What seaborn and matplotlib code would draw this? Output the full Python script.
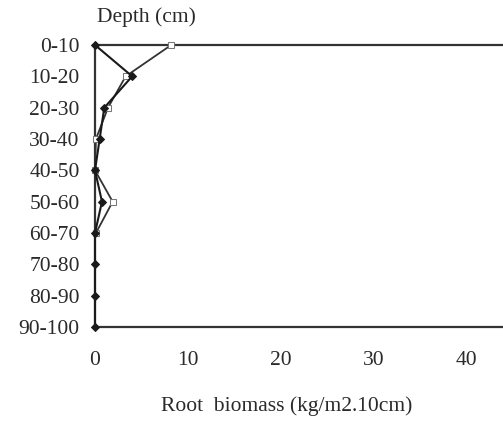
import matplotlib
matplotlib.use("Agg")
import matplotlib.pyplot as plt
import seaborn as sns
import pandas as pd

depths = ["0-10", "10-20", "20-30", "30-40", "40-50",
          "50-60", "60-70", "70-80", "80-90", "90-100"]
biomass_a = [0.0, 4.0, 1.0, 0.5, 0.0, 0.75, 0.0, 0.0, 0.0, 0.0]
biomass_b = [8.2, 3.3, 1.4, 0.1, 0.0, 1.9, 0.1]
x_ticks = [0, 10, 20, 30, 40]

sns.set_theme(style="white")
plt.rcParams["font.family"] = ["Liberation Serif", "DejaVu Serif"]

df_a = pd.DataFrame({"depth": depths, "biomass": biomass_a})
df_b = pd.DataFrame({"depth": depths[:len(biomass_b)], "biomass": biomass_b})

fig = plt.figure(figsize=(5.03, 4.28), dpi=100)
ax = fig.add_axes([95 / 503, 1 - 327 / 428, 1 - 95 / 503, (327 - 45) / 428])

sns.lineplot(data=df_a, x="biomass", y="depth", sort=False, estimator=None,
             ax=ax, color="#1a1a1a", linewidth=1.5, marker="D",
             markersize=4, markerfacecolor="#1a1a1a", markeredgecolor="#1a1a1a",
             clip_on=False, zorder=4)
sns.lineplot(data=df_b, x="biomass", y="depth", sort=False, estimator=None,
             ax=ax, color="#333333", linewidth=1.3, marker="s",
             markersize=5, markerfacecolor="white", markeredgecolor="#777777",
             clip_on=False, zorder=3)

ax.set_ylim(len(depths) - 1, 0)
ax.set_xlim(0, 43.9)
ax.set_xticks(x_ticks)
ax.set_xticklabels([str(t) for t in x_ticks])
fs = 15.5
ax.tick_params(axis="x", length=0, pad=17, labelsize=fs, labelcolor="#2a2a2a")
ax.tick_params(axis="y", length=0, pad=11, labelsize=fs, labelcolor="#2a2a2a")
ax.set_xlabel("")
ax.set_ylabel("")

for side in ["left", "bottom", "top"]:
    ax.spines[side].set_visible(True)
    ax.spines[side].set_color("#333333")
    ax.spines[side].set_linewidth(1.6)
ax.spines["right"].set_visible(False)

fig.text(146 / 503, 1 - 17 / 428, "Depth (cm)", ha="center", va="center",
         fontsize=fs, color="#2a2a2a")
fig.text(287 / 503, 1 - 406 / 428, "Root  biomass (kg/m2.10cm)", ha="center",
         va="center", fontsize=fs, color="#2a2a2a")

fig.savefig("out.png", dpi=100)
